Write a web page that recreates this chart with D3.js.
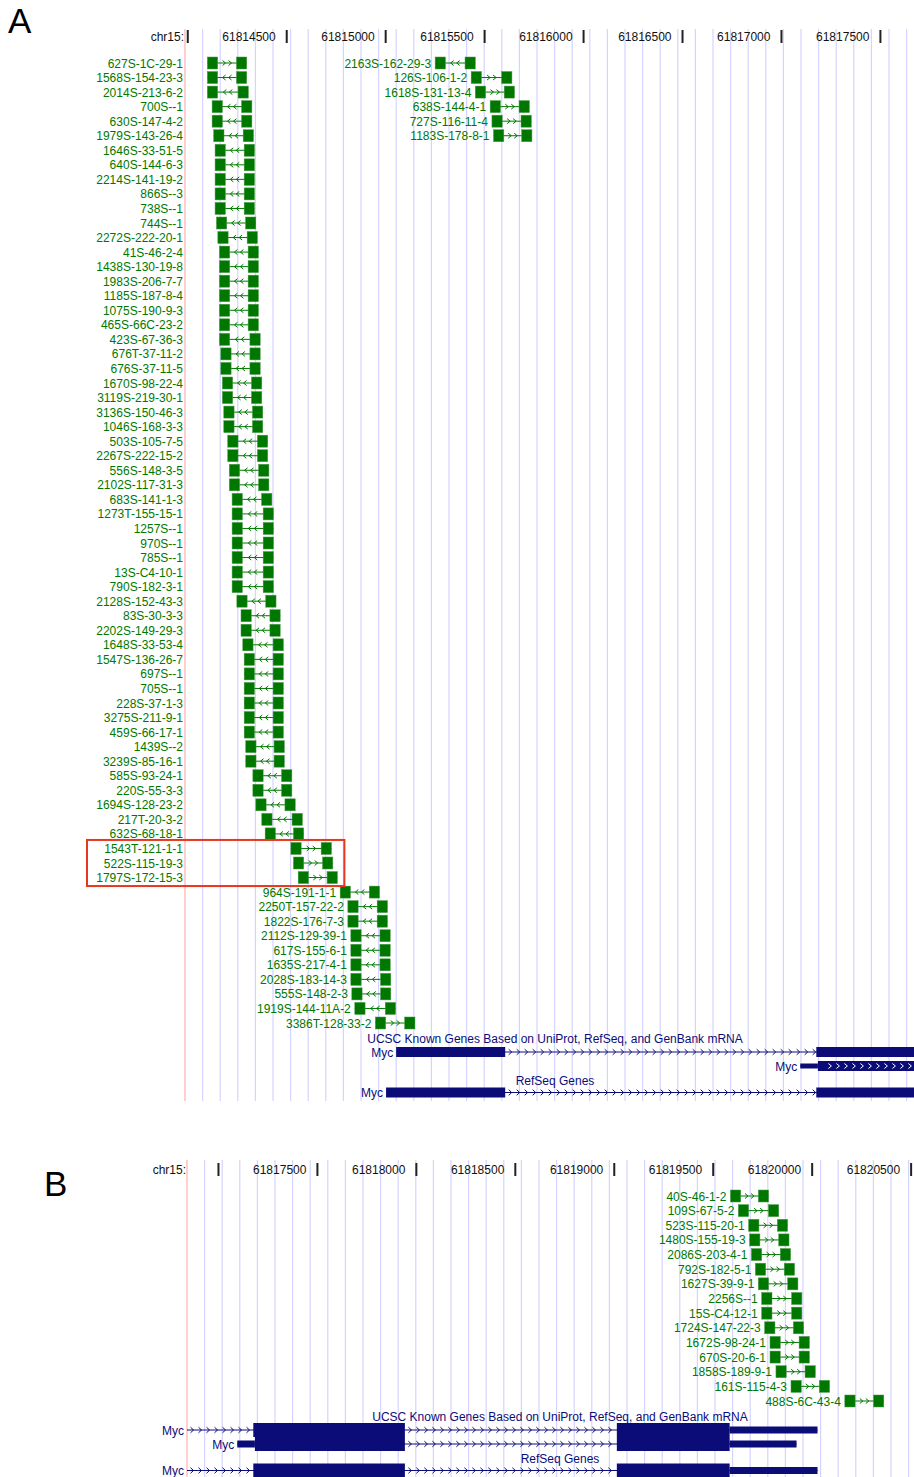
<!DOCTYPE html>
<html>
<head>
<meta charset="utf-8">
<script src="https://cdn.jsdelivr.net/npm/d3@7"></script>
<style>
  body { margin: 0; background: #fff; }
  text { font-family: "Liberation Sans", Arial, Helvetica, sans-serif; }
</style>
</head>
<body>
<svg id="fig"></svg>
<script>
// ---- data ----
const ticksA = [61814000, 61814500, 61815000, 61815500, 61816000, 61816500, 61817000, 61817500];
const ticksB = [61817000, 61817500, 61818000, 61818500, 61819000, 61819500, 61820000, 61820500];

// [name, start, end, strand]; one row each
const readsA = [
  ["627S-1C-29-1", 61814099, 61814298, "+"],
  ["1568S-154-23-3", 61814099, 61814298, "-"],
  ["2014S-213-6-2", 61814099, 61814306, "-"],
  ["700S--1", 61814123, 61814324, "-"],
  ["630S-147-4-2", 61814123, 61814324, "-"],
  ["1979S-143-26-4", 61814131, 61814332, "-"],
  ["1646S-33-51-5", 61814138, 61814337, "-"],
  ["640S-144-6-3", 61814138, 61814337, "-"],
  ["2214S-141-19-2", 61814138, 61814337, "-"],
  ["866S--3", 61814138, 61814337, "-"],
  ["738S--1", 61814138, 61814337, "-"],
  ["744S--1", 61814145, 61814344, "-"],
  ["2272S-222-20-1", 61814152, 61814352, "-"],
  ["41S-46-2-4", 61814160, 61814357, "-"],
  ["1438S-130-19-8", 61814160, 61814357, "-"],
  ["1983S-206-7-7", 61814160, 61814357, "-"],
  ["1185S-187-8-4", 61814160, 61814357, "-"],
  ["1075S-190-9-3", 61814160, 61814357, "-"],
  ["465S-66C-23-2", 61814160, 61814357, "-"],
  ["423S-67-36-3", 61814160, 61814366, "-"],
  ["676T-37-11-2", 61814167, 61814366, "-"],
  ["676S-37-11-5", 61814167, 61814366, "-"],
  ["1670S-98-22-4", 61814175, 61814374, "-"],
  ["3119S-219-30-1", 61814175, 61814374, "-"],
  ["3136S-150-46-3", 61814182, 61814379, "-"],
  ["1046S-168-3-3", 61814182, 61814379, "-"],
  ["503S-105-7-5", 61814202, 61814404, "-"],
  ["2267S-222-15-2", 61814202, 61814404, "-"],
  ["556S-148-3-5", 61814210, 61814410, "-"],
  ["2102S-117-31-3", 61814210, 61814410, "-"],
  ["683S-141-1-3", 61814224, 61814425, "-"],
  ["1273T-155-15-1", 61814224, 61814433, "-"],
  ["1257S--1", 61814224, 61814433, "-"],
  ["970S--1", 61814224, 61814433, "-"],
  ["785S--1", 61814224, 61814433, "-"],
  ["13S-C4-10-1", 61814224, 61814433, "-"],
  ["790S-182-3-1", 61814224, 61814433, "-"],
  ["2128S-152-43-3", 61814248, 61814446, "-"],
  ["83S-30-3-3", 61814269, 61814467, "-"],
  ["2202S-149-29-3", 61814269, 61814467, "-"],
  ["1648S-33-53-4", 61814278, 61814483, "-"],
  ["1547S-136-26-7", 61814285, 61814483, "-"],
  ["697S--1", 61814285, 61814483, "-"],
  ["705S--1", 61814285, 61814483, "-"],
  ["228S-37-1-3", 61814285, 61814483, "-"],
  ["3275S-211-9-1", 61814285, 61814483, "-"],
  ["459S-66-17-1", 61814285, 61814483, "-"],
  ["1439S--2", 61814293, 61814488, "-"],
  ["3239S-85-16-1", 61814293, 61814488, "-"],
  ["585S-93-24-1", 61814329, 61814526, "-"],
  ["220S-55-3-3", 61814329, 61814526, "-"],
  ["1694S-128-23-2", 61814344, 61814543, "-"],
  ["217T-20-3-2", 61814374, 61814579, "-"],
  ["632S-68-18-1", 61814391, 61814586, "-"],
  ["1543T-121-1-1", 61814521, 61814726, "+"],
  ["522S-115-19-3", 61814534, 61814733, "+"],
  ["1797S-172-15-3", 61814558, 61814756, "+"],
  ["964S-191-1-1", 61814770, 61814969, "-"],
  ["2250T-157-22-2", 61814809, 61815009, "-"],
  ["1822S-176-7-3", 61814809, 61815009, "-"],
  ["2112S-129-39-1", 61814824, 61815023, "-"],
  ["617S-155-6-1", 61814824, 61815023, "-"],
  ["1635S-217-4-1", 61814824, 61815023, "-"],
  ["2028S-183-14-3", 61814824, 61815026, "-"],
  ["555S-148-2-3", 61814829, 61815026, "-"],
  ["1919S-144-11A-2", 61814844, 61815050, "-"],
  ["3386T-128-33-2", 61814948, 61815148, "+"]
];
const marginLabelCountA = 57;      // first rows carry their names in the left margin
const highlightRowsA = [54, 55, 56];

const readsA2 = [
  ["2163S-162-29-3", 61815250, 61815453, "-"],
  ["126S-106-1-2", 61815432, 61815638, "+"],
  ["1618S-131-13-4", 61815453, 61815651, "+"],
  ["638S-144-4-1", 61815528, 61815726, "+"],
  ["727S-116-11-4", 61815537, 61815736, "+"],
  ["1183S-178-8-1", 61815545, 61815739, "+"]
];

const readsB = [
  ["40S-46-1-2", 61819587, 61819780, "+"],
  ["109S-67-5-2", 61819627, 61819831, "+"],
  ["523S-115-20-1", 61819679, 61819876, "+"],
  ["1480S-155-19-3", 61819684, 61819883, "+"],
  ["2086S-203-4-1", 61819693, 61819891, "+"],
  ["792S-182-5-1", 61819713, 61819911, "+"],
  ["1627S-39-9-1", 61819728, 61819928, "+"],
  ["2256S--1", 61819745, 61819948, "+"],
  ["15S-C4-12-1", 61819745, 61819948, "+"],
  ["1724S-147-22-3", 61819760, 61819957, "+"],
  ["1672S-98-24-1", 61819787, 61819986, "+"],
  ["670S-20-6-1", 61819787, 61819986, "+"],
  ["1858S-189-9-1", 61819817, 61820016, "+"],
  ["161S-115-4-3", 61819893, 61820088, "+"],
  ["488S-6C-43-4", 61820165, 61820362, "+"]
];
const blockLen = 52;   // bp per end block of a read

// gene models: [start, end, kind]
const mycKnown1 = [[61815053, 61815604, "thick"], [61817176, 61817942, "thick"], [61819013, 61819583, "thick"], [61819583, 61820027, "thin"]];
const mycKnown2 = [[61817095, 61817184, "thin"], [61817184, 61817942, "thick"], [61819013, 61819583, "thick"], [61819583, 61819921, "thin"]];
const mycRefSeq = [[61815002, 61815604, "thick"], [61817176, 61817942, "thick"], [61819013, 61819583, "thick"], [61819583, 61820027, "thin"]];
const trackTitles = ["UCSC Known Genes Based on UniProt, RefSeq, and GenBank mRNA", "RefSeq Genes"];

// ---- drawing ----
const W = 914, H = 1477;
const GREEN = "#007800", NAVY = "#0c0c78", GRID = "#d4d4ff", EDGE = "#ffb6b6";
const bpPx = 0.1979;

const svg = d3.select("#fig").attr("width", W).attr("height", H);
svg.append("rect").attr("width", W).attr("height", H).attr("fill", "#fff");

function chevron(g, cx, cy, dir, color, h, w) {
  g.append("path")
    .attr("d", `M${cx - dir * w / 2},${cy - h} L${cx + dir * w / 2},${cy} L${cx - dir * w / 2},${cy + h}`)
    .attr("fill", "none").attr("stroke", color).attr("stroke-width", 1);
}

function drawRead(g, x, y, d, labelRight) {
  const [name, s, e, strand] = d;
  const xs = x(s), xe = x(e);
  const bw = x(s + blockLen) - xs;
  g.append("line").attr("x1", xs).attr("x2", xe).attr("y1", y).attr("y2", y)
    .attr("stroke", GREEN).attr("stroke-width", 1);
  const a0 = xs + bw, a1 = xe - bw, gap = a1 - a0;
  const n = Math.max(1, Math.floor((gap - 3) / 6));
  const dir = strand === "+" ? 1 : -1;
  for (let i = 0; i < n; i++) {
    chevron(g, a0 + gap / 2 + (i - (n - 1) / 2) * 6, y, dir, GREEN, 2.5, 3);
  }
  [xs, xe - bw].forEach(bx => {
    g.append("rect").attr("x", bx).attr("y", y - 6).attr("width", bw).attr("height", 12)
      .attr("fill", GREEN).attr("stroke", "#4a9a4a").attr("stroke-width", 0.5);
  });
  g.append("text").attr("x", labelRight != null ? labelRight : xs - 4).attr("y", y + 0.5)
    .attr("text-anchor", "end").attr("dominant-baseline", "central")
    .attr("font-size", 12).attr("fill", GREEN).text(name);
}

function drawGene(g, x, x0, y, segs, thick, arrowsInside) {
  const gs = d3.min(segs, s => s[0]), ge = d3.max(segs, s => s[1]);
  const vs = Math.max(x(gs), x0), ve = Math.min(x(ge), W);
  g.append("line").attr("x1", vs).attr("x2", ve).attr("y1", y).attr("y2", y)
    .attr("stroke", NAVY).attr("stroke-width", 1);
  // intron chevrons
  const sorted = segs.slice().sort((a, b) => a[0] - b[0]);
  for (let i = 0; i < sorted.length - 1; i++) {
    const i0 = Math.max(x(sorted[i][1]), x0), i1 = Math.min(x(sorted[i + 1][0]), W);
    for (let cx = i0 + 5; cx < i1 - 2; cx += 8) chevron(g, cx, y, 1, NAVY, 2.8, 3);
  }
  sorted.forEach(([s, e, kind]) => {
    const h = kind === "thick" ? thick : thick / 2;
    const xs = x(s), xe = x(e);
    g.append("rect").attr("x", xs).attr("y", y - h / 2).attr("width", xe - xs).attr("height", h)
      .attr("fill", NAVY);
    if (arrowsInside && kind === "thick") {
      for (let cx = Math.max(xs, x0) + 12; cx < Math.min(xe, W) - 2; cx += 8) {
        chevron(g, cx, y, 1, "#fff", 2.5, 3);
      }
    }
  });
}

function drawPanel(cfg) {
  const x = d3.scaleLinear()
    .domain([cfg.left, cfg.left + (W - cfg.x0) / bpPx])
    .range([cfg.x0, W]);
  const y = d3.scaleLinear().domain([0, cfg.rows - 1]).range([cfg.rowY0, cfg.rowY1]);

  const clipId = "clip" + cfg.id;
  svg.append("clipPath").attr("id", clipId)
    .append("rect").attr("x", cfg.x0).attr("y", cfg.top).attr("width", W - cfg.x0).attr("height", cfg.bottom - cfg.top);

  const base = svg.append("g");
  // guide lines
  d3.range(cfg.x0 + 17.6, W, 17.6).forEach(gx => {
    base.append("line").attr("x1", gx).attr("x2", gx).attr("y1", cfg.top).attr("y2", cfg.bottom)
      .attr("stroke", GRID).attr("stroke-width", 1.2);
  });
  base.append("line").attr("x1", cfg.x0).attr("x2", cfg.x0).attr("y1", cfg.top).attr("y2", cfg.bottom)
    .attr("stroke", EDGE).attr("stroke-width", 1.3);

  // ruler
  base.append("text").attr("x", cfg.x0 - 1).attr("y", cfg.axisY)
    .attr("text-anchor", "end").attr("dominant-baseline", "central")
    .attr("font-size", 12).attr("fill", "#111").text("chr15:");
  cfg.ticks.forEach((t, i) => {
    const tx = x(t);
    base.append("rect").attr("x", tx - 1).attr("y", cfg.axisY - 7).attr("width", 2).attr("height", 13)
      .attr("fill", "#222");
    if (i > 0) {
      base.append("text").attr("x", tx - 11).attr("y", cfg.axisY)
        .attr("text-anchor", "end").attr("dominant-baseline", "central")
        .attr("font-size", 12).attr("fill", "#111").text(t);
    }
  });

  const marks = svg.append("g");
  cfg.reads.forEach((set) => {
    set.data.forEach((d, i) => {
      const labelRight = set.marginCount != null && i < set.marginCount ? cfg.x0 - 2 : null;
      drawRead(marks, x, y(i), d, labelRight);
    });
  });

  // gene tracks
  const gy = cfg.rowY1;
  const genes = svg.append("g");
  const clipped = genes.append("g").attr("clip-path", `url(#${clipId})`);
  genes.append("text").attr("x", cfg.titleX).attr("y", gy + 16).attr("text-anchor", "middle")
    .attr("dominant-baseline", "central").attr("font-size", 12).attr("fill", NAVY).text(trackTitles[0]);
  genes.append("text").attr("x", cfg.titleX).attr("y", gy + 58).attr("text-anchor", "middle")
    .attr("dominant-baseline", "central").attr("font-size", 12).attr("fill", NAVY).text(trackTitles[1]);
  const rows = [[mycKnown1, gy + 29, false], [mycKnown2, gy + 43, cfg.id === "A"], [mycRefSeq, gy + 69.5, false]];
  rows.forEach(([segs, yy, inside]) => {
    drawGene(clipped, x, cfg.x0, yy, segs, cfg.thick, inside);
    const vs = Math.max(x(d3.min(segs, s => s[0])), cfg.x0);
    genes.append("text").attr("x", vs - 3).attr("y", yy + 0.5)
      .attr("text-anchor", "end").attr("dominant-baseline", "central")
      .attr("font-size", 12).attr("fill", NAVY).text("Myc");
  });

  // panel letter
  svg.append("text").attr("x", cfg.letterX).attr("y", cfg.letterY)
    .attr("font-size", 35).attr("fill", "#000").text(cfg.id);

  return { x, y };
}

const pA = drawPanel({
  id: "A", x0: 185, left: 61813986, ticks: ticksA,
  top: 29, bottom: 1101, axisY: 37,
  rows: readsA.length, rowY0: 63, rowY1: 1023,
  reads: [{ data: readsA, marginCount: marginLabelCountA }, { data: readsA2 }],
  titleX: 555, thick: 10, letterX: 8, letterY: 33
});

drawPanel({
  id: "B", x0: 187, left: 61816841, ticks: ticksB,
  top: 1160, bottom: H, axisY: 1170,
  rows: readsB.length, rowY0: 1196, rowY1: 1401,
  reads: [{ data: readsB }],
  titleX: 560, thick: 14, letterX: 44, letterY: 1196
});

// highlight box around selected reads in A
const hiEnd = d3.max(highlightRowsA, r => pA.x(readsA[r][2]));
const hiTop = pA.y(d3.min(highlightRowsA)) - 8.5, hiBot = pA.y(d3.max(highlightRowsA)) + 8.5;
svg.append("rect").attr("x", 87).attr("y", hiTop).attr("width", hiEnd + 7 - 87).attr("height", hiBot - hiTop)
  .attr("fill", "none").attr("stroke", "#e8361f").attr("stroke-width", 2);
</script>
</body>
</html>
